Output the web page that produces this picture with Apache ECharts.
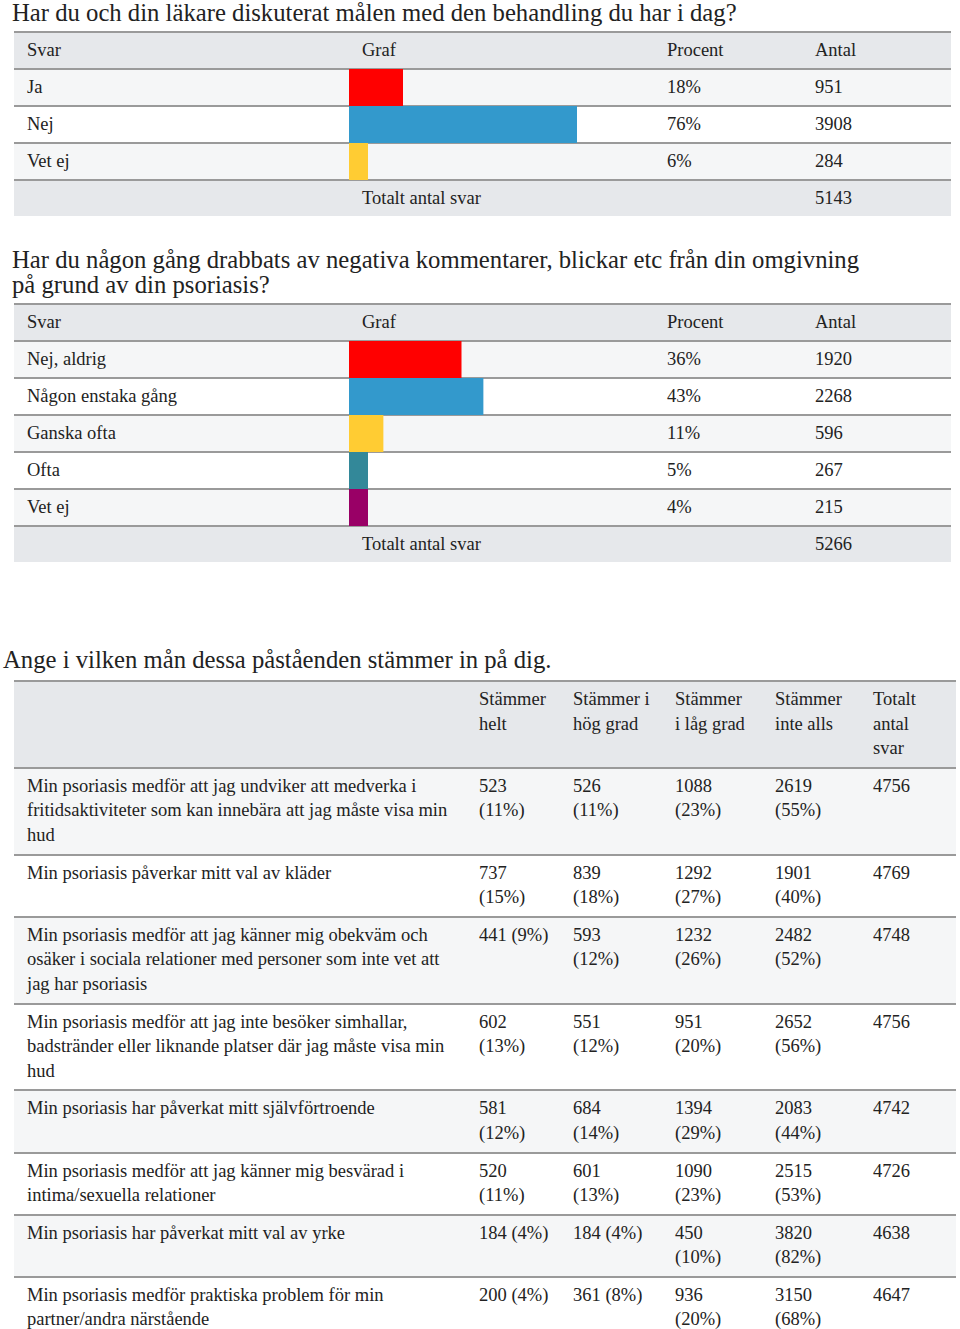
<!DOCTYPE html>
<html><head><meta charset="utf-8">
<script src="https://cdn.jsdelivr.net/npm/echarts@6/dist/echarts.min.js"></script>
<style>
body{margin:0;background:#fff;font-family:"Liberation Serif","Times New Roman",serif;color:#222;}
#page{position:relative;width:960px;height:1329px;overflow:hidden;}
.title{position:absolute;font-size:24.7px;line-height:25px;white-space:pre;}
.tbl{position:absolute;left:14px;width:937px;font-size:18.5px;}
.row{display:flex;border-top:2px solid #9a9a9a;height:35px;line-height:35px;}
.hdr,.tot{background:#e6e8eb;}
.odd{background:#f5f6f7;}
.even{background:#fff;}
.cell{box-sizing:border-box;padding-left:13px;white-space:nowrap;}
.chart{position:absolute;left:349px;width:300px;}
#t3{position:absolute;left:14px;width:942px;font-size:18.5px;}
.r3{display:flex;border-top:2px solid #9a9a9a;line-height:24.6px;padding:5px 0 6px 0;}
.c3{box-sizing:border-box;padding-left:13px;}
.c3 div{word-wrap:normal;}
</style></head>
<body><div id="page"></div>
<script>
// ---- data ----
const q1Title = 'Har du och din läkare diskuterat målen med den behandling du har i dag?';
const q1Answers = ['Ja', 'Nej', 'Vet ej'];
const q1Percent = [18, 76, 6];
const q1Count = [951, 3908, 284];
const q1Total = 5143;

const q2Title = 'Har du någon gång drabbats av negativa kommentarer, blickar etc från din omgivning\npå grund av din psoriasis?';
const q2Answers = ['Nej, aldrig', 'Någon enstaka gång', 'Ganska ofta', 'Ofta', 'Vet ej'];
const q2Percent = [36, 43, 11, 5, 4];
const q2Count = [1920, 2268, 596, 267, 215];
const q2Total = 5266;

const tableHeaders = ['Svar', 'Graf', 'Procent', 'Antal'];
const totalLabel = 'Totalt antal svar';
const barColors = ['#ff0000', '#3399cc', '#ffcc33', '#338899', '#990066'];

const q3Title = 'Ange i vilken mån dessa påståenden stämmer in på dig.';
const q3Headers = ['Stämmer helt', 'Stämmer i hög grad', 'Stämmer i låg grad', 'Stämmer inte alls', 'Totalt antal svar'];
const q3Statements = [
  'Min psoriasis medför att jag undviker att medverka i\nfritidsaktiviteter som kan innebära att jag måste visa min\nhud',
  'Min psoriasis påverkar mitt val av kläder',
  'Min psoriasis medför att jag känner mig obekväm och\nosäker i sociala relationer med personer som inte vet att\njag har psoriasis',
  'Min psoriasis medför att jag inte besöker simhallar,\nbadstränder eller liknande platser där jag måste visa min\nhud',
  'Min psoriasis har påverkat mitt självförtroende',
  'Min psoriasis medför att jag känner mig besvärad i\nintima/sexuella relationer',
  'Min psoriasis har påverkat mitt val av yrke',
  'Min psoriasis medför praktiska problem för min\npartner/andra närstående'
];
const q3Helt = [523, 737, 441, 602, 581, 520, 184, 200];
const q3HeltPct = [11, 15, 9, 13, 12, 11, 4, 4];
const q3Hog = [526, 839, 593, 551, 684, 601, 184, 361];
const q3HogPct = [11, 18, 12, 12, 14, 13, 4, 8];
const q3Lag = [1088, 1292, 1232, 951, 1394, 1090, 450, 936];
const q3LagPct = [23, 27, 26, 20, 29, 23, 10, 20];
const q3Inte = [2619, 1901, 2482, 2652, 2083, 2515, 3820, 3150];
const q3IntePct = [55, 40, 52, 56, 44, 53, 82, 68];
const q3Total = [4756, 4769, 4748, 4756, 4742, 4726, 4638, 4647];

// ---- layout ----
const page = document.getElementById('page');
function el(tag, cls, parent, text) {
  const e = document.createElement(tag);
  if (cls) e.className = cls;
  if (text !== undefined) e.textContent = text;
  parent.appendChild(e);
  return e;
}
function title(text, x, y) {
  const t = el('div', 'title', page, text);
  t.style.left = x + 'px'; t.style.top = y + 'px';
}
const colW = [335, 305, 148, 149];
function simpleTable(top, answers, pcts, counts, total, axisMax) {
  const t = el('div', 'tbl', page);
  t.style.top = top + 'px';
  function row(cls, vals) {
    const r = el('div', 'row ' + cls, t);
    vals.forEach((v, i) => { const c = el('div', 'cell', r, v); c.style.width = colW[i] + 'px'; });
  }
  row('hdr', tableHeaders);
  answers.forEach((a, i) => row(i % 2 === 0 ? 'odd' : 'even', [a, '', pcts[i] + '%', String(counts[i])]));
  row('tot', ['', totalLabel, '', String(total)]);
  const cd = el('div', 'chart', page);
  cd.style.top = (top + 38) + 'px';
  cd.style.height = (answers.length * 37) + 'px';
  const ch = echarts.init(cd, null, { renderer: 'canvas' });
  ch.setOption({
    animation: false,
    grid: { left: 0, right: 0, top: 0, bottom: 0 },
    xAxis: { type: 'value', min: 0, max: axisMax, show: false },
    yAxis: { type: 'category', inverse: true, data: answers, show: false },
    series: [{
      type: 'bar', barCategoryGap: 0, barMinHeight: 19,
      data: pcts.map((p, i) => ({ value: p, itemStyle: { color: barColors[i] } }))
    }]
  });
}

title(q1Title, 12, 0);
simpleTable(31, q1Answers, q1Percent, q1Count, q1Total, 100);
title(q2Title, 12, 247);
simpleTable(303, q2Answers, q2Percent, q2Count, q2Total, 96);
title(q3Title, 3, 647);

const c3W = [452, 94, 102, 100, 98, 96];
const c3Inner = [430, 73, 77.5, 73, 75, 70];
const t3 = el('div', '', page); t3.id = 't3'; t3.style.top = '680px';
function row3(cls, vals) {
  const r = el('div', 'r3 ' + cls, t3);
  vals.forEach((v, i) => {
    const c = el('div', 'c3', r);
    c.style.width = c3W[i] + 'px';
    const d = el('div', '', c, v);
    d.style.width = c3Inner[i] + 'px';
    if (i === 0) d.style.whiteSpace = 'pre';
  });
}
row3('hdr', [''].concat(q3Headers));
const fmt = (n, p) => n + ' (' + p + '%)';
q3Statements.forEach((s, i) => {
  row3(i % 2 === 0 ? 'odd' : 'even', [s,
    fmt(q3Helt[i], q3HeltPct[i]), fmt(q3Hog[i], q3HogPct[i]),
    fmt(q3Lag[i], q3LagPct[i]), fmt(q3Inte[i], q3IntePct[i]), String(q3Total[i])]);
});
</script></body></html>
